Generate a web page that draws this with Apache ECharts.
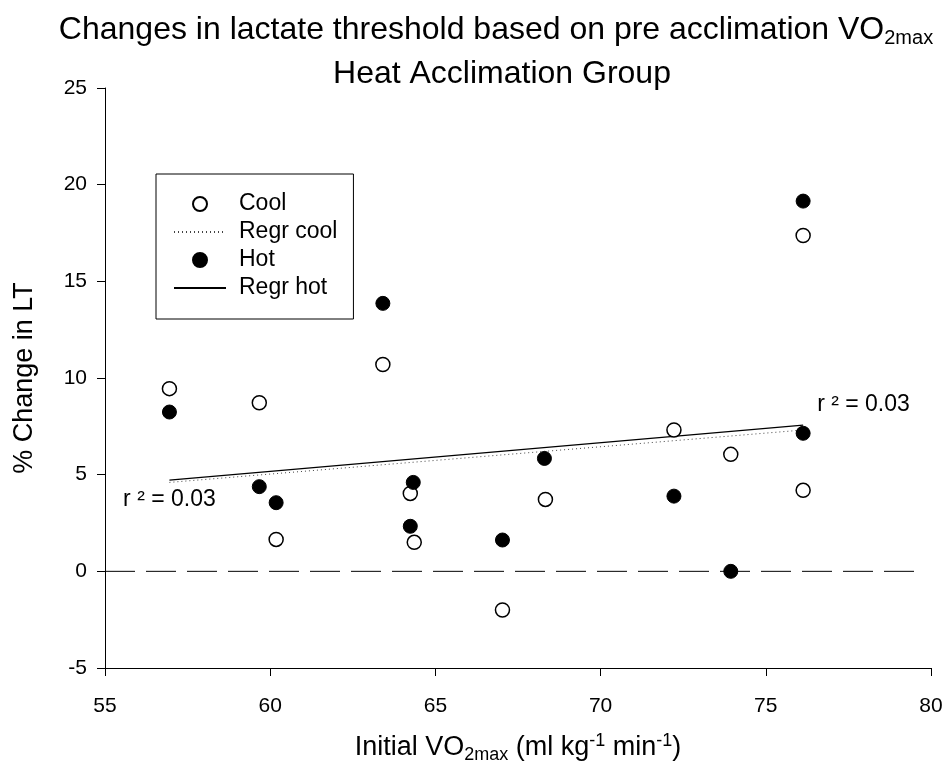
<!DOCTYPE html>
<html>
<head>
<meta charset="utf-8">
<script src="https://cdn.jsdelivr.net/npm/echarts@6/dist/echarts.min.js"></script>
<style>
html,body{margin:0;padding:0;background:#fff;}
#chart{width:950px;height:772px;}
</style>
</head>
<body>
<div id="chart"></div>
<script>
// ---- data ----
const xCool = [56.95, 59.67, 60.18, 63.41, 64.24, 64.36, 67.03, 68.33, 72.22, 73.94, 76.13, 76.13];
const yCool = [9.45, 8.72, 1.65, 10.7, 4.03, 1.5, -2.0, 3.72, 7.31, 6.05, 17.37, 4.19];
const xHot = [56.95, 59.67, 60.18, 63.41, 64.24, 64.33, 67.03, 68.3, 72.22, 73.94, 76.13, 76.13];
const yHot = [8.24, 4.38, 3.55, 13.86, 2.33, 4.6, 1.62, 5.84, 3.89, 0.0, 19.15, 7.14];
const regrX = [56.95, 76.13];
const regrCoolY = [4.6, 7.31];
const regrHotY = [4.72, 7.56];
const zeroX = [55, 79.7];
const zeroY = [0, 0];
const r2Text = 'r \u00B2 = 0.03';
const legendNames = ['Cool', 'Regr cool', 'Hot', 'Regr hot'];

const FONT = '"Liberation Sans", Arial, Helvetica, sans-serif';
const zip = (xs, ys) => xs.map((x, i) => [x, ys[i]]);

const chart = echarts.init(document.getElementById('chart'), null, {renderer: 'canvas'});

// r² annotations anchored at the regression line ends (left: cool start, right: hot end)
const r2Data = [
  {
    value: [regrX[0], regrCoolY[0]],
    label: {show: true, position: 'bottom', distance: 6, formatter: r2Text}
  },
  {
    value: [regrX[1], regrHotY[1]],
    label: {show: true, position: 'right', offset: [0, -21], distance: 14, formatter: r2Text}
  }
];

// legend entries: regression lines show only their line (no marker)
const legendData = legendNames.map(n => n.indexOf('Regr') === 0
  ? {name: n, itemStyle: {opacity: 0}}
  : {name: n});

const option = {
  backgroundColor: '#fff',
  animation: false,
  textStyle: {fontFamily: FONT, color: '#000'},
  title: [
    {
      text: 'Changes in lactate threshold based on pre acclimation VO{sub|2max}',
      left: 491, top: 5, textAlign: 'center',
      textStyle: {
        fontSize: 32, fontWeight: 'normal', color: '#000', fontFamily: FONT, lineHeight: 40,
        rich: {sub: {fontSize: 20, fontFamily: FONT, color: '#000', lineHeight: 40, padding: [16, 0, 0, 0]}}
      }
    },
    {
      text: 'Heat Acclimation Group',
      left: 497, top: 51, textAlign: 'center',
      textStyle: {fontSize: 32, fontWeight: 'normal', color: '#000', fontFamily: FONT, lineHeight: 36}
    }
  ],
  legend: {
    orient: 'vertical',
    left: 156, top: 174,
    itemWidth: 52, itemHeight: 14, itemGap: 4,
    padding: [18, 16, 19, 17],
    borderColor: '#000', borderWidth: 1,
    data: legendData,
    textStyle: {fontSize: 23, color: '#000', fontFamily: FONT, lineHeight: 24, padding: [0, 0, 0, 8]}
  },
  grid: {left: 105, right: 19, top: 88, bottom: 104, containLabel: false},
  xAxis: {
    type: 'value', min: 55, max: 80, interval: 5,
    name: 'Initial VO{sub|2max} (ml kg{sup|-1} min{sup|-1})',
    nameLocation: 'middle', nameGap: 62,
    nameTextStyle: {
      fontSize: 27, color: '#000', fontFamily: FONT, lineHeight: 36,
      rich: {
        sub: {fontSize: 18, color: '#000', fontFamily: FONT, lineHeight: 36, padding: [14, 0, 0, 0]},
        sup: {fontSize: 18, color: '#000', fontFamily: FONT, lineHeight: 36, padding: [0, 0, 14, 0]}
      }
    },
    axisLine: {show: true, onZero: false, lineStyle: {color: '#000', width: 1}},
    axisTick: {show: true, inside: false, length: 8, lineStyle: {color: '#000'}},
    axisLabel: {fontSize: 21, color: '#000', fontFamily: FONT, margin: 28},
    splitLine: {show: false}
  },
  yAxis: {
    type: 'value', min: -5, max: 25, interval: 5,
    name: '% Change in LT',
    nameLocation: 'middle', nameGap: 67, nameRotate: 90,
    nameTextStyle: {fontSize: 27, color: '#000', fontFamily: FONT},
    axisLine: {show: true, onZero: false, lineStyle: {color: '#000', width: 1}},
    axisTick: {show: true, inside: false, length: 8, lineStyle: {color: '#000'}},
    axisLabel: {fontSize: 21, color: '#000', fontFamily: FONT, margin: 18},
    splitLine: {show: false}
  },
  series: [
    {
      name: 'zero', type: 'line', data: zip(zeroX, zeroY),
      symbol: 'none', silent: true, z: 1,
      lineStyle: {color: '#000', width: 1, type: [30, 11]}
    },
    {
      name: 'Regr cool', type: 'line', data: zip(regrX, regrCoolY),
      symbol: 'none', z: 2,
      lineStyle: {color: '#444', width: 1, type: [1, 3]},
      itemStyle: {color: '#444'}
    },
    {
      name: 'Regr hot', type: 'line', data: zip(regrX, regrHotY),
      symbol: 'none', z: 2,
      lineStyle: {color: '#000', width: 1.2, type: 'solid'},
      itemStyle: {color: '#000'}
    },
    {
      name: 'r2', type: 'scatter', data: r2Data,
      symbolSize: 0, silent: true, z: 4,
      itemStyle: {color: '#000'},
      label: {fontSize: 23, color: '#000', fontFamily: FONT, opacity: 1}
    },
    {
      name: 'Cool', type: 'scatter', data: zip(xCool, yCool),
      symbol: 'circle', symbolSize: 14, z: 3,
      itemStyle: {color: '#fff', borderColor: '#000', borderWidth: 1.5, opacity: 1}
    },
    {
      name: 'Hot', type: 'scatter', data: zip(xHot, yHot),
      symbol: 'circle', symbolSize: 14, z: 3,
      itemStyle: {color: '#000', borderColor: '#000', borderWidth: 1, opacity: 1}
    }
  ]
};
chart.setOption(option);
</script>
</body>
</html>
